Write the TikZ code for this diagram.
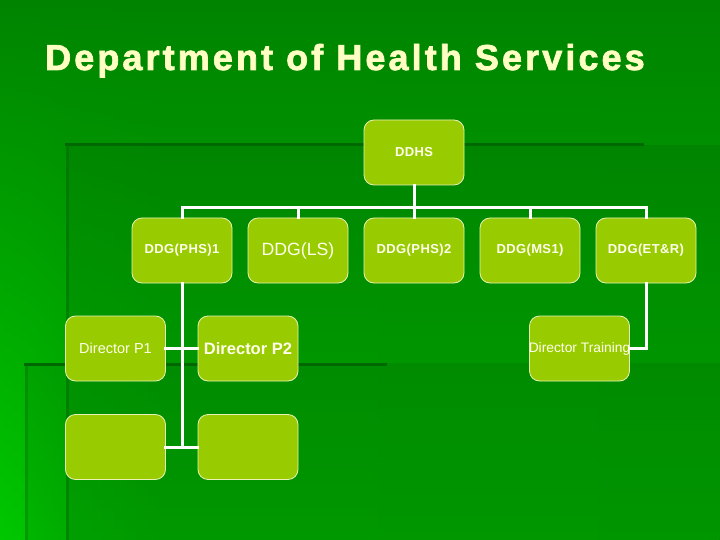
\documentclass[tikz,border=0pt]{standalone}
\usepackage{fontspec}
\setmainfont{Liberation Sans}
\usepackage{tikz}
\usetikzlibrary{positioning,fadings}

\definecolor{bgdark}{HTML}{008400}
\definecolor{bglight}{HTML}{00C800}
\definecolor{deco}{HTML}{006800}
\definecolor{boxfill}{HTML}{99CC00}
\definecolor{boxline}{HTML}{E8F2B8}
\definecolor{txt}{HTML}{FFFFEE}
\definecolor{titlecol}{HTML}{FFFFC4}

% light bottom row, brightest at the far left
\pgfdeclarehorizontalshading{lowrow}{100bp}{color(0bp)=(bglight); color(25bp)=(bglight);
  color(27bp)=(green!77!black); color(30bp)=(green!73!black); color(36bp)=(green!70!black);
  color(75bp)=(green!69!black); color(100bp)=(green!69!black)}
\tikzfading[name=upfade,top color=transparent!100,bottom color=transparent!0]

\tikzset{
  post/.style={draw=boxline,line width=0.8pt,fill=boxfill,rounded corners=10pt,
    minimum width=100pt,minimum height=65pt,inner sep=0pt,text=txt,align=center},
  small/.style={font=\fontsize{13}{15}\selectfont\bfseries\addfontfeatures{LetterSpace=3}},
  conn/.style={draw=white,line width=3pt}
}

\begin{document}
\begin{tikzpicture}[line cap=rect,line join=miter,x=1pt,y=-1pt]
\useasboundingbox (0,0) rectangle (720,540);
% background
\fill[bgdark] (0,0) rectangle (720,540);
\shade[shading=lowrow,path fading=upfade] (0,0) rectangle (720,540);
\fill[black,opacity=0.07] (66,145) rectangle (720,540);
\fill[black,opacity=0.07] (25,363) rectangle (720,540);
\draw[deco,line width=3pt] (66,145) -- (642,145);
\draw[deco,line width=3pt,opacity=0.45] (67,145) -- (67,540);
\draw[deco,line width=3pt] (25,364) -- (385,364);
\draw[deco,line width=3pt,opacity=0.35] (26,364) -- (26,540);

% title
\node[anchor=base west,inner sep=0pt,text=titlecol,font=\fontsize{36}{40}\selectfont\bfseries\addfontfeatures{LetterSpace=8.6,FakeBold=2}] (title) at (45,70) {Department of Health Services};

% boxes
\node[post,small] (ddhs) at (414,152.5) {DDHS};
\node[post,small] (phs1) at (182,250.5) {DDG(PHS)1};
\node[post,font=\fontsize{17.7}{20}\selectfont] (ls) at (298,250.5) {DDG(LS)};
\node[post,small] (phs2) at (414,250.5) {DDG(PHS)2};
\node[post,small] (ms1) at (530,250.5) {DDG(MS1)};
\node[post,small] (etr) at (646,250.5) {DDG(ET\&R)};
\node[post,font=\fontsize{14.5}{16}\selectfont] (dp1) at (115.5,348.5) {Director P1};
\node[post,font=\fontsize{16.5}{20}\selectfont\bfseries] (dp2) at (248,348.5) {Director P2};
\node[post,font=\fontsize{13.8}{16}\selectfont] (dtr) at (579.5,348.5) {\makebox[0pt]{Director Training}};
\node[post] (e1) at (115.5,447) {};
\node[post] (e2) at (248,447) {};

% connectors
\coordinate (bus) at (414,208);
\draw[conn] (ddhs.south) -- (bus);
\draw[conn] (phs1.north) |- (bus) -| (etr.north);
\draw[conn] (ls.north) -- (ls.north |- bus);
\draw[conn] (phs2.north) -- (bus);
\draw[conn] (ms1.north) -- (ms1.north |- bus);
\draw[conn] (phs1.south) -- (phs1.south |- e1.east);
\draw[conn] (dp1.east) -- (dp2.west);
\draw[conn] (e1.east) -- (e2.west);
\draw[conn] (etr.south) |- (dtr.east);
\end{tikzpicture}
\end{document}
